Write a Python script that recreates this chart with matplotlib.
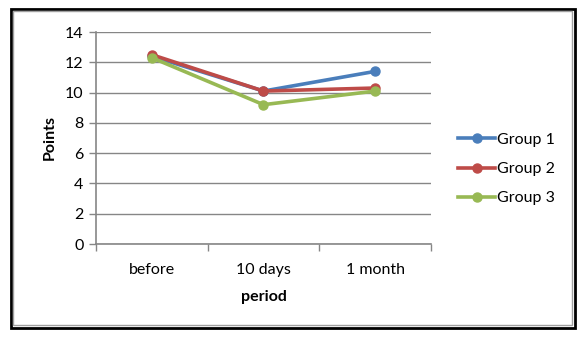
import matplotlib.pyplot as plt
from matplotlib.patches import Rectangle
from matplotlib.lines import Line2D

# Data
periods = ['before', '10 days', '1 month']
group1 = [12.4, 10.1, 11.4]
group2 = [12.5, 10.1, 10.3]
group3 = [12.3, 9.2, 10.1]
series = [('Group 1', group1, '#4A7EBB'),
          ('Group 2', group2, '#BE4B48'),
          ('Group 3', group3, '#98B954')]

plt.rcParams['font.family'] = ['Lato', 'DejaVu Sans']

W, H = 582, 337
fig = plt.figure(figsize=(W / 100, H / 100), dpi=100)

# Plot area in pixel coords: left 96, right 431, top 32, bottom 244
ax = fig.add_axes([96 / W, 1 - 244 / H, (431 - 96) / W, (244 - 32) / H])

x = [0, 1, 2]
for name, vals, col in series:
    ax.plot(x, vals, color=col, lw=2.6, marker='o', ms=6.5, label=name,
            solid_capstyle='round', zorder=3)

ax.set_xlim(-0.5, 2.5)
ax.set_ylim(0, 14)
ax.set_yticks(range(0, 15, 2))
ax.set_xticks(x)
ax.set_xticklabels(periods)
ax.set_xticks([-0.5, 0.5, 1.5, 2.5], minor=True)
ax.tick_params(axis='x', which='major', length=0, pad=14, labelsize=11.5)
ax.tick_params(axis='x', which='minor', length=5, color='#868686', width=1)
ax.tick_params(axis='y', length=5, color='#868686', width=1, labelsize=11.5, pad=4)

ax.grid(axis='y', color='#868686', lw=1)
ax.set_axisbelow(True)
for s in ['top', 'right']:
    ax.spines[s].set_visible(False)
for s in ['left', 'bottom']:
    ax.spines[s].set_color('#868686')
    ax.spines[s].set_linewidth(1.2)

ax.set_xlabel('period', fontweight='bold', fontsize=11.5, labelpad=9)
ax.set_ylabel('Points', fontweight='bold', fontsize=11.5, labelpad=6)

handles = [Line2D([], [], color=c, lw=2.6, marker='o', ms=6.5) for _, _, c in series]
fig.legend(handles, [n for n, _, _ in series], loc='center left',
           bbox_to_anchor=(444 / W, 1 - 169 / H), frameon=False, fontsize=11.5,
           handlelength=2.3, handletextpad=0.1, labelspacing=0.95)

# Outer frame
fig.patches.append(Rectangle((11 / W, 1 - 328 / H), (575 - 11) / W, (328 - 9) / H,
                             transform=fig.transFigure, fill=False,
                             edgecolor='black', lw=2))
fig.patches.append(Rectangle((13 / W, 1 - 325 / H), (572 - 13) / W, (325 - 11) / H,
                             transform=fig.transFigure, fill=False,
                             edgecolor='#A0A0A0', lw=1))

fig.savefig('out.png', dpi=100)
